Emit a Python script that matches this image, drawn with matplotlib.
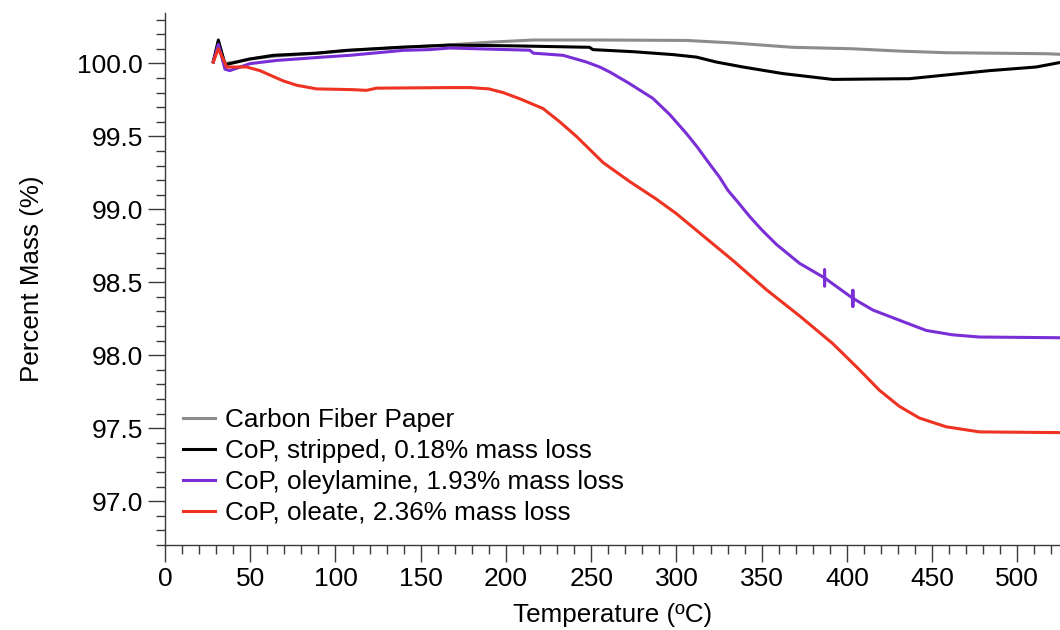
import matplotlib
matplotlib.use("Agg")
import matplotlib.pyplot as plt
from matplotlib.ticker import MultipleLocator

plt.rcParams['font.family'] = ['Liberation Sans', 'DejaVu Sans']

# TGA traces: temperature (C) vs percent mass
cfp_T = [28.3, 31.3, 35.2, 42, 50, 65, 90, 110, 140, 165, 192, 216, 255, 306, 333, 368, 403, 431, 458, 517, 525]
cfp_m = [100.01, 100.14, 100.0, 100.01, 100.03, 100.05, 100.07, 100.09, 100.11, 100.125, 100.146, 100.16,
         100.16, 100.157, 100.14, 100.11, 100.10, 100.084, 100.073, 100.066, 100.062]

strip_T = [28.3, 31.3, 35.2, 42, 49.8, 63.5, 88.9, 106.5, 137.7, 167, 204, 249, 251, 274.5, 298, 311.7,
           323.4, 339, 362.4, 391.7, 436.7, 456.2, 483.6, 511, 524.6]
strip_m = [100.01, 100.16, 99.99, 100.009, 100.03, 100.055, 100.07, 100.089, 100.11, 100.125, 100.12, 100.11,
           100.094, 100.08, 100.06, 100.043, 100.009, 99.975, 99.93, 99.89, 99.895, 99.918, 99.95, 99.975, 100.005]

olam_T = [28.3, 31.3, 35.2, 38, 49.8, 65.5, 92.8, 108.4, 139.7, 155, 167, 214, 216, 233.5, 247, 255, 261,
          272, 286.2, 296, 305.8, 312, 319.5, 325.3, 330.2, 336, 343, 350, 358.6, 372.2,
          386.9, 386.9, 386.9, 386.9, 403.5, 403.5, 403.5, 403.5, 415.2, 430.8, 446.5, 462, 477.7, 525]
olam_m = [100.01, 100.13, 99.96, 99.95, 99.998, 100.02, 100.043, 100.055, 100.089, 100.094, 100.105, 100.09,
          100.07, 100.055, 100.01, 99.975, 99.94, 99.865, 99.76, 99.65, 99.52, 99.43, 99.31, 99.22, 99.13,
          99.05, 98.95, 98.86, 98.76, 98.63, 98.53, 98.585, 98.475, 98.53, 98.39, 98.445, 98.335, 98.39,
          98.31, 98.24, 98.17, 98.14, 98.125, 98.12]

olate_T = [28.3, 31.3, 36.2, 47.9, 55.7, 69.3, 77.2, 88.9, 110, 118.2, 124, 167, 178.8, 190, 198.3, 208,
           221.8, 231.5, 241.3, 257, 272.6, 288.2, 300, 315.5, 333.1, 352.7, 372.2, 391.7, 407.4, 419.1,
           430.8, 442.5, 458.2, 477.7, 525]
olate_m = [100.01, 100.10, 99.975, 99.975, 99.95, 99.88, 99.85, 99.825, 99.82, 99.815, 99.83, 99.834, 99.834,
           99.825, 99.80, 99.758, 99.69, 99.60, 99.50, 99.32, 99.19, 99.07, 98.97, 98.82, 98.65, 98.45, 98.27,
           98.08, 97.90, 97.76, 97.65, 97.57, 97.51, 97.475, 97.47]

labels = ["Carbon Fiber Paper",
          "CoP, stripped, 0.18% mass loss",
          "CoP, oleylamine, 1.93% mass loss",
          "CoP, oleate, 2.36% mass loss"]
colors = ["#8c8c8c", "#000000", "#7a2fd6", "#ee3322"]

fig = plt.figure(figsize=(10.6, 6.3), dpi=100)
ax = fig.add_axes([165 / 1060, 1 - 545 / 630, 1 - 165 / 1060, (545 - 13) / 630])

series = [(cfp_T, cfp_m), (strip_T, strip_m), (olam_T, olam_m), (olate_T, olate_m)]
for (t, m), lab, c in zip(series, labels, colors):
    ax.plot(t, m, color=c, lw=2.2, label=lab, solid_joinstyle='round')

ax.set_xlim(0, 525)
ax.set_ylim(96.7, 100.345)

ax.xaxis.set_major_locator(MultipleLocator(50))
ax.xaxis.set_minor_locator(MultipleLocator(10))
ax.yaxis.set_major_locator(MultipleLocator(0.5))
ax.yaxis.set_minor_locator(MultipleLocator(0.1))
ax.yaxis.set_major_formatter(matplotlib.ticker.FormatStrFormatter('%.1f'))

for s in ['top', 'right']:
    ax.spines[s].set_visible(False)
for s in ['left', 'bottom']:
    ax.spines[s].set_color('#3a3a3a')
    ax.spines[s].set_linewidth(1.0)

ax.tick_params(which='major', direction='out', length=12.2, width=1.0, color='#3a3a3a',
               labelsize=19, pad=3.5)
ax.tick_params(which='minor', direction='out', length=6.5, width=1.0, color='#3a3a3a')

ax.set_xlabel("Temperature (ºC)", fontsize=18.7, labelpad=8.5)
ax.set_ylabel("Percent Mass (%)", fontsize=18.7, labelpad=24)

ax.legend(loc='upper left', bbox_to_anchor=(0.02, 0.258), frameon=False, fontsize=18.8,
          handlelength=1.22, handletextpad=0.38, labelspacing=0.27, borderpad=0, borderaxespad=0)

fig.savefig("out.png", dpi=100)
